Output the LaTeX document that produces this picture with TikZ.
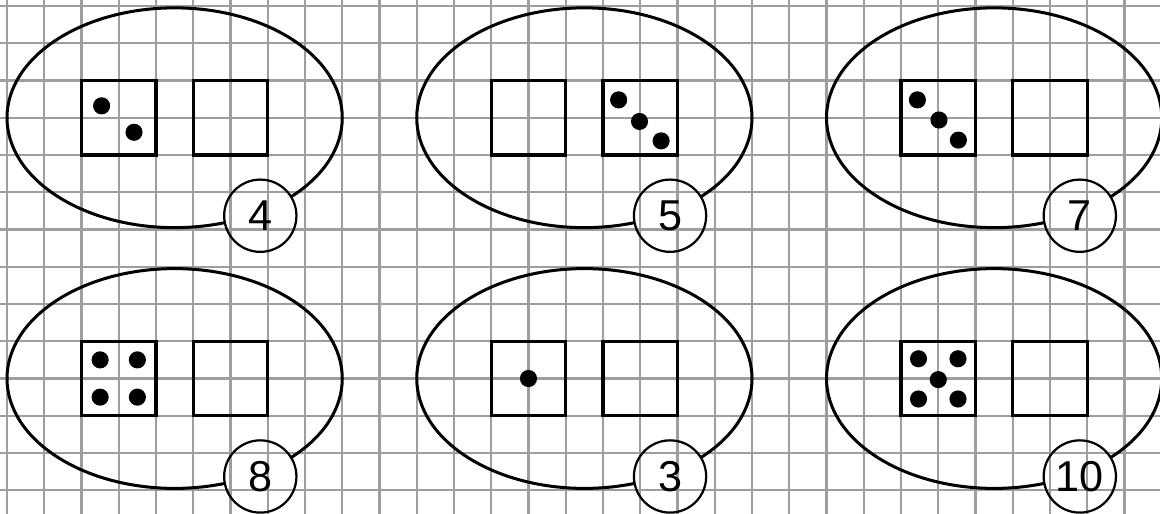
\documentclass[tikz,border=0pt]{standalone}
\usepackage{fontspec}
\setmainfont{Liberation Sans}
\definecolor{gridgray}{HTML}{9E9E9E}
\begin{document}
\begin{tikzpicture}[x=1cm,y=-1cm,
  gridline/.style={draw=gridgray,line width=1.6pt},
  oval/.style={draw=black,line width=2.3pt},
  numcirc/.style={circle,draw=black,line width=1.7pt,minimum size=1.94cm,inner sep=0pt,
    font=\fontsize{33}{33}\selectfont},
  diebox/.style={rectangle,draw=black,line width=2.5pt,minimum size=2cm,inner sep=0pt},
  pip/.style={fill=black}]
\fill[white] (-0.1879,-0.1611) rectangle (30.953,13.611);
\useasboundingbox (-0.1879,-0.1611) rectangle (30.953,13.611);
% grid
\foreach \i in {0,...,30} \draw[gridline] (\i,-0.2) -- (\i,13.7);
\foreach \j in {0,...,13} \draw[gridline] (-0.2,\j) -- (31,\j);
% panel macro
\newcommand{\mypanel}[4]{%
  \begin{scope}[shift={(#1,#2)}]
    \begin{scope}[even odd rule]
      \clip (-1,-1) rectangle (10.5,7.5) (6.8,5.63) circle (0.97);
      \draw[oval] (4.5,3) ellipse [x radius=4.5, y radius=2.95];
    \end{scope}
    \node[numcirc] (#4n) at (6.8,5.63) {#3};
    \node[diebox] (#4a) at (3,3) {};
    \node[diebox] (#4b) at (6,3) {};
  \end{scope}}
\mypanel{0}{0}{4}{p1}
\mypanel{11}{0}{5}{p2}
\mypanel{22}{0}{7}{p3}
\mypanel{0}{7}{8}{p4}
\mypanel{11}{7}{3}{p5}
\mypanel{22}{7}{10}{p6}
% pips
\def\pr{0.23}
% panel 1, left box
\fill[pip] (2.54,2.68) circle (\pr);
\fill[pip] (3.41,3.39) circle (\pr);
% panel 2, right box
\fill[pip] (16.42,2.52) circle (\pr);
\fill[pip] (16.98,3.10) circle (\pr);
\fill[pip] (17.56,3.62) circle (\pr);
% panel 3, left box
\fill[pip] (24.44,2.52) circle (\pr);
\fill[pip] (25.02,3.06) circle (\pr);
\fill[pip] (25.54,3.60) circle (\pr);
% panel 4, left box
\fill[pip] (2.5,9.5) circle (\pr);
\fill[pip] (3.5,9.5) circle (\pr);
\fill[pip] (2.5,10.5) circle (\pr);
\fill[pip] (3.5,10.5) circle (\pr);
% panel 5, left box
\fill[pip] (14,10) circle (\pr);
% panel 6, left box
\fill[pip] (24.47,9.47) circle (\pr);
\fill[pip] (25.53,9.47) circle (\pr);
\fill[pip] (25.0,10.03) circle (\pr);
\fill[pip] (24.47,10.55) circle (\pr);
\fill[pip] (25.53,10.55) circle (\pr);
\end{tikzpicture}
\end{document}
